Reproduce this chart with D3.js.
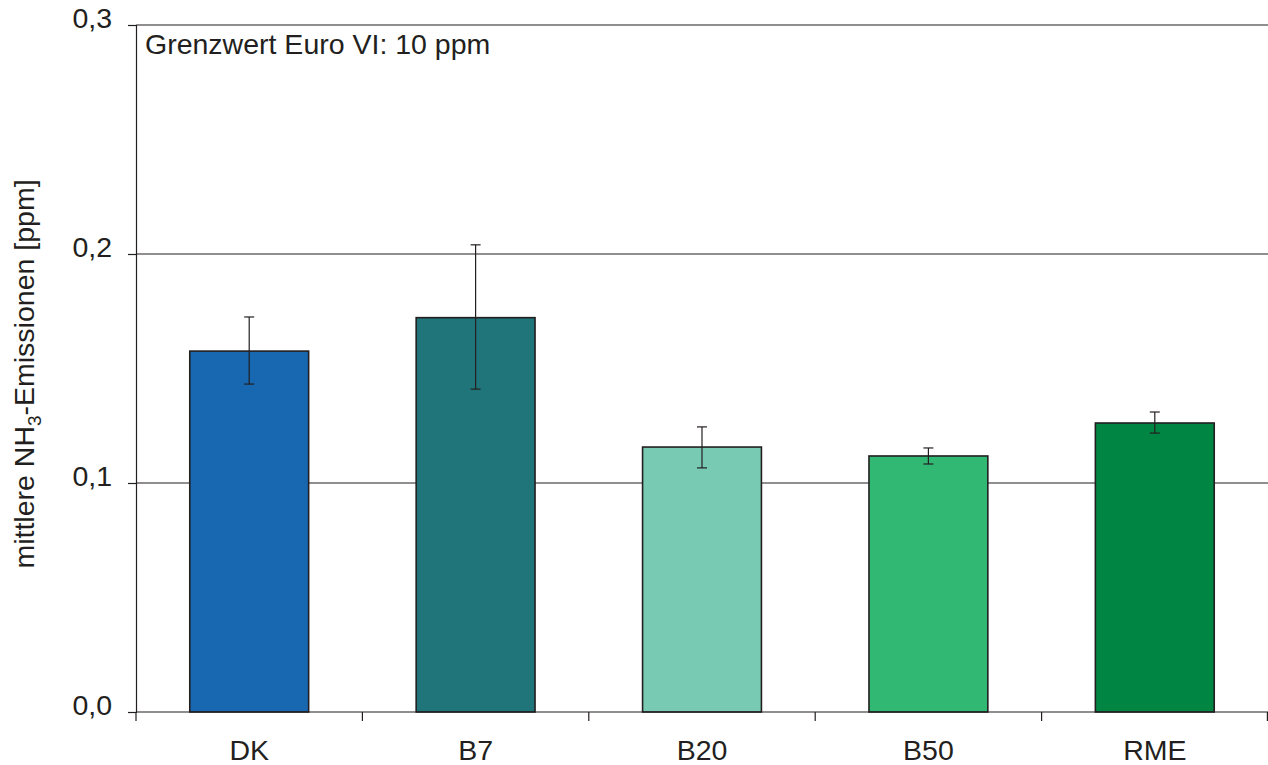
<!DOCTYPE html>
<html><head><meta charset="utf-8">
<script src="https://cdn.jsdelivr.net/npm/d3@7"></script>
<style>body{margin:0;background:#fff}svg{display:block}text{font-family:"Liberation Sans",Arial,Helvetica,sans-serif;fill:#231f20}</style>
</head><body>
<svg id="c" width="1268" height="765"></svg>
<script>
const categories = ["DK","B7","B20","B50","RME"];
const values = [0.1576,0.1722,0.1157,0.1118,0.1262];
const errLow = [0.1432,0.1410,0.1066,0.1083,0.1218];
const errHigh = [0.1725,0.2040,0.1245,0.1153,0.1310];
const colors = ["#1767b1","#20757a","#79cab2","#31b872","#008542"];
const yTicks = [0,0.1,0.2,0.3];
const yTickLabels = ["0,0","0,1","0,2","0,3"];

const svg = d3.select("#c");
const m = {l:136, r:1268, t:25, b:712};
const x = d3.scaleBand().domain(categories).range([m.l,m.r]).paddingInner(0.475).paddingOuter(0.2375);
const y = d3.scaleLinear().domain([0,0.3]).range([m.b,m.t]);
const ink = "#231f20";
const FS = 28.5;

// gridlines
svg.append("g").selectAll("line").data(yTicks.filter(d=>d>0)).join("line")
  .attr("x1",m.l).attr("x2",m.r).attr("y1",d=>y(d)).attr("y2",d=>y(d))
  .attr("stroke",ink).attr("stroke-width",1.2);

// bars
svg.append("g").selectAll("rect").data(categories).join("rect")
  .attr("x",d=>x(d)).attr("width",x.bandwidth())
  .attr("y",(d,i)=>y(values[i])).attr("height",(d,i)=>y(0)-y(values[i]))
  .attr("fill",(d,i)=>colors[i]).attr("stroke",ink).attr("stroke-width",1.6);

// error bars
const eb = svg.append("g").attr("stroke",ink).attr("stroke-width",1.2);
categories.forEach((c,i)=>{
  const cx = x(c)+x.bandwidth()/2;
  eb.append("line").attr("x1",cx).attr("x2",cx).attr("y1",y(errLow[i])).attr("y2",y(errHigh[i]));
  [errLow[i],errHigh[i]].forEach(v=>eb.append("line").attr("x1",cx-5).attr("x2",cx+5).attr("y1",y(v)).attr("y2",y(v)));
});

// y axis
const ya = svg.append("g").attr("transform",`translate(${m.l},0)`)
  .call(d3.axisLeft(y).tickValues(yTicks).tickFormat((d,i)=>yTickLabels[i]).tickSize(8).tickPadding(16));
ya.select(".domain").attr("stroke",ink).attr("stroke-width",1.2);
ya.selectAll(".tick line").attr("stroke",ink).attr("stroke-width",1.2);
ya.selectAll(".tick text").attr("font-size",FS).attr("fill",ink).attr("dy","0.1em")
  .style("font-family","'Liberation Sans',Arial,sans-serif");

// x axis
const xa = svg.append("g").attr("transform",`translate(0,${m.b})`);
xa.append("line").attr("x1",m.l).attr("x2",m.r).attr("y1",0).attr("y2",0).attr("stroke",ink).attr("stroke-width",1.2);
const bounds = d3.range(categories.length+1).map(i=>m.l+i*x.step());
xa.selectAll("line.t").data(bounds).join("line").attr("class","t")
  .attr("x1",d=>Math.min(d,m.r-0.6)).attr("x2",d=>Math.min(d,m.r-0.6)).attr("y1",0).attr("y2",9)
  .attr("stroke",ink).attr("stroke-width",1.2);
xa.selectAll("text").data(categories).join("text")
  .attr("x",d=>x(d)+x.bandwidth()/2).attr("y",48).attr("text-anchor","middle")
  .attr("font-size",FS).text(d=>d);

// annotation
svg.append("text").attr("x",145).attr("y",54).attr("font-size",FS).text("Grenzwert Euro VI: 10 ppm");

// y title
const yt = svg.append("text").attr("transform","translate(34,374) rotate(-90)")
  .attr("text-anchor","middle").attr("font-size",FS);
yt.append("tspan").text("mittlere NH");
yt.append("tspan").attr("font-size",19).attr("dy",7).text("3");
yt.append("tspan").attr("dy",-7).text("-Emissionen [ppm]");
</script>
</body></html>
